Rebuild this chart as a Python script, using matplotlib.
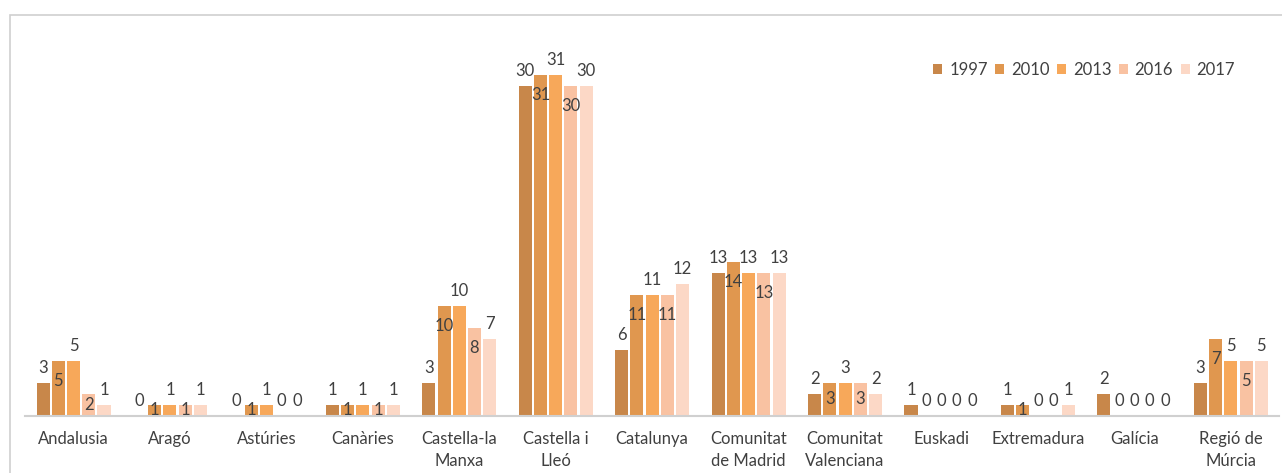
import matplotlib.pyplot as plt
import numpy as np
from matplotlib.patches import Rectangle

plt.rcParams['font.family'] = ['Lato', 'DejaVu Sans']

# regions (x axis categories)
regions = ['Andalusia', 'Aragó', 'Astúries', 'Canàries', 'Castella-la\nManxa',
           'Castella i\nLleó', 'Catalunya', 'Comunitat\nde Madrid',
           'Comunitat\nValenciana', 'Euskadi', 'Extremadura', 'Galícia',
           'Regió de\nMúrcia']

years = ['1997', '2010', '2013', '2016', '2017']

v1997 = [3, 0, 0, 1, 3, 30, 6, 13, 2, 1, 1, 2, 3]
v2010 = [5, 1, 1, 1, 10, 31, 11, 14, 3, 0, 1, 0, 7]
v2013 = [5, 1, 1, 1, 10, 31, 11, 13, 3, 0, 0, 0, 5]
v2016 = [2, 1, 0, 1, 8, 30, 11, 13, 3, 0, 0, 0, 5]
v2017 = [1, 1, 0, 1, 7, 30, 12, 13, 2, 0, 1, 0, 5]
series = [v1997, v2010, v2013, v2016, v2017]

colors = ['#C8874A', '#E0974F', '#F7A85A', '#F9C2A2', '#FCD8C6']
txt_col = '#404040'
fs = 12

fig = plt.figure(figsize=(12.82, 4.73), dpi=100)
ax = fig.add_axes([25.3 / 1282, 57 / 473, 1253.7 / 1282, 385 / 473])

x = np.arange(len(regions))
step = 0.158
width = 0.135

for i, vals in enumerate(series):
    xs = x + (i - 2) * step
    ax.bar(xs, vals, width=width, color=colors[i], label=years[i], zorder=2)
    for xx, v in zip(xs, vals):
        # excel style: odd series inside end, even series outside end
        if i % 2 == 1 and v > 0:
            bar_px = v * 11
            off = -min(14.5, bar_px / 2 / 1.389)
        else:
            off = 10.5
        ax.annotate(str(v), (xx, v), xytext=(0, off), textcoords='offset points',
                    ha='center', va='center', fontsize=fs, color=txt_col, zorder=3)

ax.set_xlim(-0.5, len(regions) - 0.5)
ax.set_ylim(0, 35)
ax.set_xticks(x)
ax.set_xticklabels(regions, fontsize=fs, color=txt_col, linespacing=1.45)
ax.tick_params(axis='x', length=0, pad=11)
ax.set_yticks([])
for s in ['top', 'right', 'left']:
    ax.spines[s].set_visible(False)
ax.spines['bottom'].set_color('#d0d0d0')
ax.spines['bottom'].set_linewidth(1.5)

# chart frame (cut off at right and bottom)
frame = Rectangle((9.5 / 1282, -0.1), 1.2, 1 - 15.5 / 473 + 0.1, transform=fig.transFigure,
                  fill=False, edgecolor='#cfcfcf', linewidth=1.2)
fig.add_artist(frame)

fig.legend(loc='center right', bbox_to_anchor=(1250 / 1282, 1 - 70 / 473), ncol=5,
           frameon=False, fontsize=fs, handlelength=0.55, handleheight=0.55,
           handletextpad=0.4, columnspacing=0.45, labelcolor=txt_col)

fig.savefig('out.png', dpi=100)
